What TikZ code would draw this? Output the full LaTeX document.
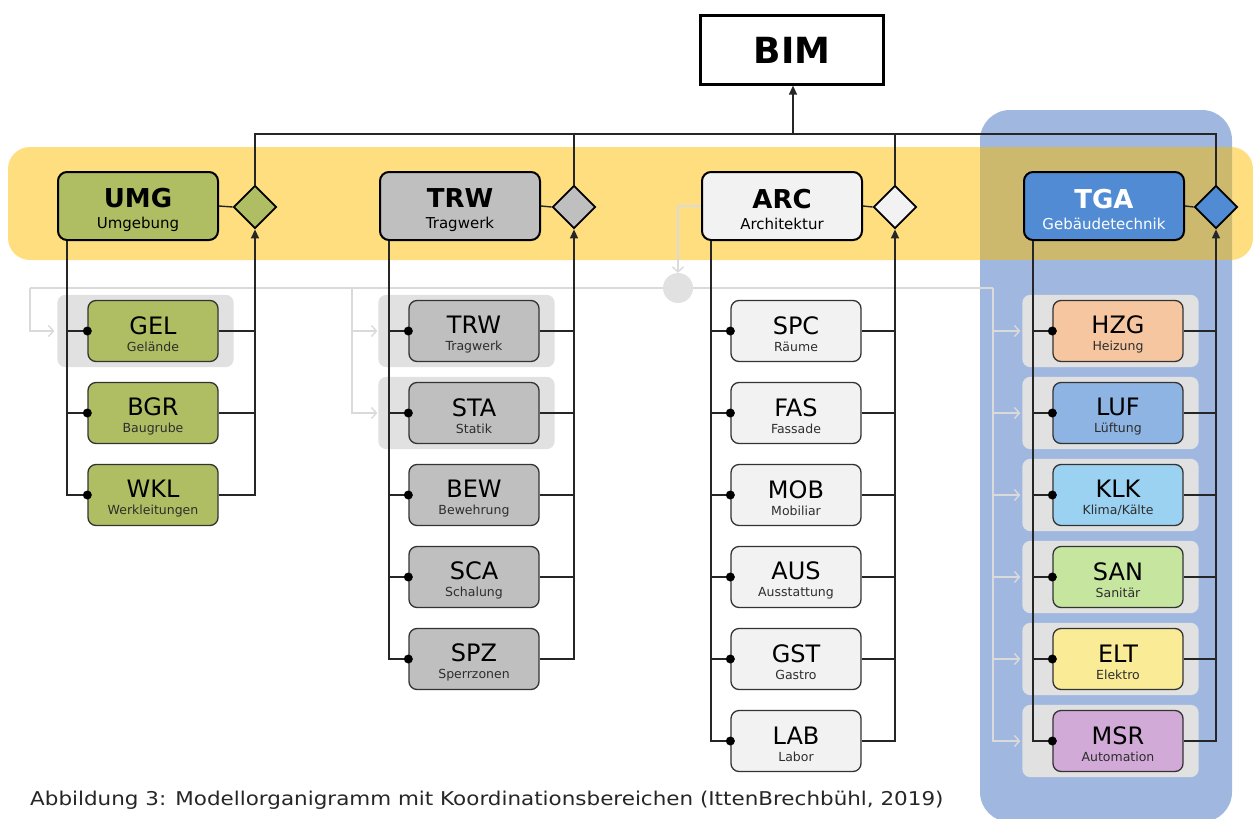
\documentclass[tikz,border=0pt]{standalone}
\usepackage{fontspec}
\setmainfont{DejaVu Sans}
\usetikzlibrary{shapes.geometric,arrows.meta,backgrounds}
\definecolor{umg}{RGB}{175,190,98}
\definecolor{trw}{RGB}{191,191,191}
\definecolor{arc}{RGB}{242,242,242}
\definecolor{tga}{RGB}{80,139,212}
\definecolor{hzg}{RGB}{246,198,160}
\definecolor{luf}{RGB}{142,180,227}
\definecolor{klk}{RGB}{155,210,242}
\definecolor{san}{RGB}{198,230,160}
\definecolor{elt}{RGB}{250,235,150}
\definecolor{msr}{RGB}{210,170,215}
\definecolor{band}{RGB}{255,222,128}
\definecolor{col}{RGB}{160,184,224}
\definecolor{overlap}{RGB}{204,185,110}
\definecolor{grp}{RGB}{224,225,224}
\definecolor{flow}{RGB}{218,218,218}
\definecolor{subgray}{RGB}{45,45,45}
\tikzset{
  conn/.style={line width=1.4pt, black!85},
  flowln/.style={line width=1.4pt, draw=flow},
  flowarr/.style={flowln, -{Straight Barb[length=5pt,width=11pt]}},
  tip/.style={-{Triangle[length=9pt,width=8pt]}},
  hdr/.style={draw, line width=2pt, rounded corners=9pt, minimum width=160pt, minimum height=68pt, align=center, inner sep=0pt, font=\fontsize{15}{18}\selectfont},
  sub/.style={draw=black!80, line width=1.3pt, rounded corners=8pt, minimum width=130pt, minimum height=61pt, align=center, inner sep=0pt, font=\fontsize{12.5}{15}\selectfont},
  dia/.style={diamond, draw, line width=1.8pt, minimum width=43pt, minimum height=43pt, inner sep=0pt},
  grpbox/.style={fill=grp, rounded corners=8pt},
}
\newcommand\hdtxt[2]{{\fontsize{26}{26}\selectfont\bfseries\rule{0pt}{27pt}#1}\\[3pt]#2}
\newcommand\subtxt[2]{{\fontsize{24}{24}\selectfont\rule{0pt}{24pt}#1}\\[2pt]{\color{subgray}#2}}
\begin{document}
\begin{tikzpicture}[x=1pt, y=-1pt]
\useasboundingbox (0,0) rectangle (1253,819);
\node[draw, line width=2.2pt, minimum width=183pt, minimum height=69pt, font=\fontsize{36}{36}\selectfont\bfseries] (BIM) at (792,50) {BIM};
% Fachmodelle
\node[hdr, fill=umg] (hUMG) at (138,206) {\hdtxt{UMG}{Umgebung}};
\node[hdr, fill=trw] (hTRW) at (460,206) {\hdtxt{TRW}{Tragwerk}};
\node[hdr, fill=arc] (hARC) at (782,206) {\hdtxt{ARC}{Architektur}};
\node[hdr, fill=tga, text=white] (hTGA) at (1104,206) {\hdtxt{TGA}{Gebäudetechnik}};
\node[dia, fill=umg] (dUMG) at (255,207) {};
\node[dia, fill=trw] (dTRW) at (574,207) {};
\node[dia, fill=arc] (dARC) at (895,207) {};
\node[dia, fill=tga] (dTGA) at (1216,207) {};
% Teilmodelle
\foreach \nm/\lb/\y in {GEL/Gelände/331, BGR/Baugrube/413, WKL/Werkleitungen/495}
  \node[sub, fill=umg] (\nm) at (153,\y) {\subtxt{\nm}{\lb}};
\foreach \nm/\lb/\y in {TRW/Tragwerk/331, STA/Statik/413, BEW/Bewehrung/495, SCA/Schalung/577, SPZ/Sperrzonen/659}
  \node[sub, fill=trw] (\nm) at (474,\y) {\subtxt{\nm}{\lb}};
\foreach \nm/\lb/\y in {SPC/Räume/331, FAS/Fassade/413, MOB/Mobiliar/495, AUS/Ausstattung/577, GST/Gastro/659, LAB/Labor/741}
  \node[sub, fill=arc] (\nm) at (796,\y) {\subtxt{\nm}{\lb}};
\node[sub, fill=hzg] (HZG) at (1118,331) {\subtxt{HZG}{Heizung}};
\node[sub, fill=luf] (LUF) at (1118,413) {\subtxt{LUF}{Lüftung}};
\node[sub, fill=klk] (KLK) at (1118,495) {\subtxt{KLK}{Klima/Kälte}};
\node[sub, fill=san] (SAN) at (1118,577) {\subtxt{SAN}{Sanitär}};
\node[sub, fill=elt] (ELT) at (1118,659) {\subtxt{ELT}{Elektro}};
\node[sub, fill=msr] (MSR) at (1118,741) {\subtxt{MSR}{Automation}};
\node[circle, fill=grp, minimum size=30pt, inner sep=0pt] (hub) at (678,288) {};
\node[anchor=base west, inner sep=0pt, text=black!85, font=\fontsize{19}{19}\selectfont] (cap) at (30,805)
  {\scalebox{1.13}[1]{Abbildung 3: Modellorganigramm mit Koordinationsbereichen (IttenBrechbühl, 2019)}};
% Linien
\coordinate (bus) at (793,134);
\foreach \g in {UMG,TRW,ARC,TGA} {
  \coordinate (l\g) at ([xshift=10pt]h\g.south west);
  \draw[conn] (h\g.east) -- (d\g.west);
}
\draw[conn] (dUMG.north) |- (bus) -| (dTGA.north);
\draw[conn] (dTRW.north) -- (dTRW.north |- bus);
\draw[conn] (dARC.north) -- (dARC.north |- bus);
\draw[conn, tip] (bus) -- (bus |- BIM.south);
\foreach \c/\g in {GEL/UMG,BGR/UMG,TRW/TRW,STA/TRW,BEW/TRW,SCA/TRW,SPC/ARC,FAS/ARC,MOB/ARC,AUS/ARC,GST/ARC,HZG/TGA,LUF/TGA,KLK/TGA,SAN/TGA,ELT/TGA} {
  \draw[conn] (l\g |- \c.west) -- (\c.west);
  \draw[conn] (\c.east) -- (d\g |- \c.east);
}
\foreach \g/\l in {UMG/WKL,TRW/SPZ,ARC/LAB,TGA/MSR} {
  \draw[conn] (l\g) |- (\l.west);
  \draw[conn, tip] (\l.east) -| (d\g.south);
}
\foreach \c in {GEL,BGR,WKL,TRW,STA,BEW,SCA,SPZ,SPC,FAS,MOB,AUS,GST,LAB,HZG,LUF,KLK,SAN,ELT,MSR}
  \fill (\c.west) circle[radius=4.5pt];
% Hintergrund, Koordination
\begin{scope}[on background layer]
\fill[band, rounded corners=22pt] (8,147) rectangle (1253,260);
\fill[col, rounded corners=30pt] (980,110) rectangle (1232,822);
\fill[overlap] (980,147) rectangle (1232,260);
\foreach \c in {GEL,TRW,STA,HZG,LUF,KLK,SAN,ELT,MSR}
  \fill[grpbox] ([shift={(-30pt,5pt)}]\c.north west) rectangle ([shift={(15pt,-5pt)}]\c.south east);
\coordinate (fl) at (30,288);
\coordinate (ft) at (352,288);
\coordinate (fr) at (993,288);
\draw[flowln] (fl) -- (fr);
\draw[flowarr] (hARC.west) -| (hub.north);
\draw[flowarr] (fl) |- ([xshift=-33pt]GEL.west);
\draw[flowarr] (ft) |- ([xshift=-31pt]TRW.west);
\draw[flowarr] (ft) |- ([xshift=-31pt]STA.west);
\foreach \c in {HZG,LUF,KLK,SAN,ELT,MSR}
  \draw[flowarr] (fr) |- ([xshift=-32pt]\c.west);
\end{scope}
\end{tikzpicture}
\end{document}
